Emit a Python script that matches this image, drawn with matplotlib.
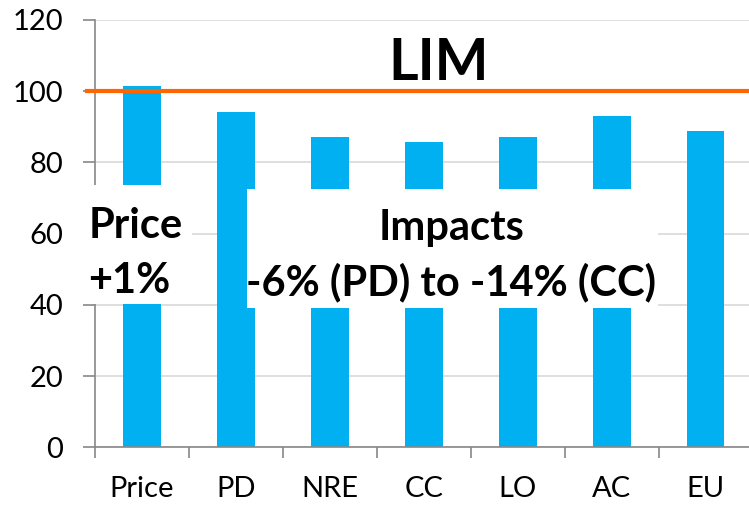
import matplotlib.pyplot as plt
from matplotlib.patches import Rectangle

plt.rcParams['font.family'] = ['Lato', 'DejaVu Sans']

categories = ['Price', 'PD', 'NRE', 'CC', 'LO', 'AC', 'EU']
values = [101.5, 94.2, 87.1, 85.6, 87.2, 92.9, 88.9]
lim_value = 100
yticks = [0, 20, 40, 60, 80, 100, 120]

bar_color = '#00B0F0'
line_color = '#FF6600'

fig = plt.figure(figsize=(7.49, 5.05), dpi=100)
ax = fig.add_axes([0.1268, 0.1143, 0.8781, 0.8461])

x = range(len(categories))
ax.bar(x, values, width=0.4, color=bar_color, zorder=2)
ax.axhline(lim_value, xmin=-0.012, xmax=1, color=line_color, lw=3, zorder=2.6, clip_on=False)

ax.set_xlim(-0.5, len(categories) - 0.5)
ax.set_ylim(0, 120)
ax.set_yticks(yticks)
ax.set_xticks(x)
ax.set_xticklabels(categories)
ax.set_xticks([i - 0.5 for i in range(len(categories) + 1)], minor=True)
ax.tick_params(axis='x', which='major', length=0, labelsize=21, pad=21)
ax.tick_params(axis='x', which='minor', length=8, width=1.2, color='#888888')
ax.tick_params(axis='y', length=9, width=1.2, color='#888888', labelsize=21, pad=14)

ax.yaxis.grid(True, color='#d9d9d9', lw=1.2, zorder=0)
ax.set_axisbelow(True)
for s in ['top', 'right']:
    ax.spines[s].set_visible(False)
for s in ['left', 'bottom']:
    ax.spines[s].set_color('#888888')
    ax.spines[s].set_linewidth(1.2)

# white text boxes covering parts of the chart
ax.add_patch(Rectangle((-0.66, 40.3), 1.19, 33.5, facecolor='white',
                       edgecolor='none', zorder=3, clip_on=False))
ax.add_patch(Rectangle((1.114, 39.2), 4.382, 33.4, facecolor='white',
                       edgecolor='none', zorder=3, clip_on=False))

ax.text(3.16, 103.2, 'LIM', fontsize=41, fontweight='bold', ha='center', va='baseline', zorder=4)
ax.text(-0.565, 58.8, 'Price', fontsize=30, fontweight='bold', ha='left', va='baseline', zorder=4)
ax.text(-0.575, 43.4, '+1%', fontsize=30, fontweight='bold', ha='left', va='baseline', zorder=4)
ax.text(3.30, 58.2, 'Impacts', fontsize=30, fontweight='bold', ha='center', va='baseline', zorder=4)
ax.text(3.29, 42.8, '-6% (PD) to -14% (CC)', fontsize=30, fontweight='bold', ha='center', va='baseline', zorder=4)

fig.savefig('out.png', dpi=100)
